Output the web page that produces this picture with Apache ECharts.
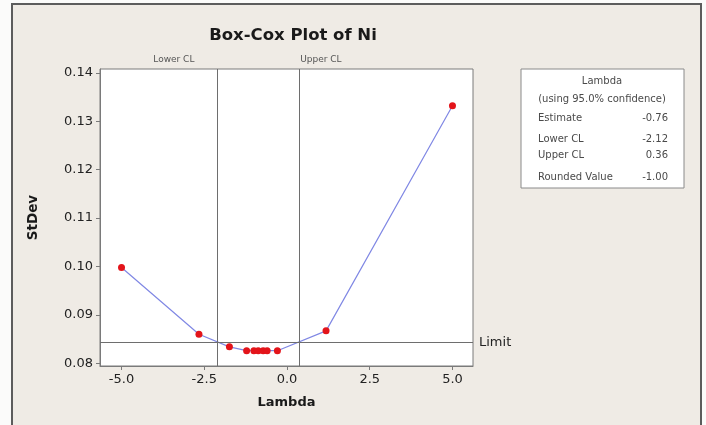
<!DOCTYPE html>
<html>
<head>
<meta charset="utf-8">
<script src="https://cdn.jsdelivr.net/npm/echarts@6/dist/echarts.min.js"></script>
<style>
  html, body { margin: 0; padding: 0; background: #fbfbfa; width: 706px; height: 425px; overflow: hidden; }
  #frame { position: absolute; left: 11px; top: 3px; width: 687px; height: 440px;
           background: #efebe5; border: 2px solid #5c5c5c; }
  #chart { position: absolute; left: 0; top: 0; width: 706px; height: 425px; }
</style>
</head>
<body>
<div id="frame"></div>
<div id="chart"></div>
<script>
// Box-Cox transformation search: standard deviation of the transformed data vs lambda
const lambdas = [-5, -2.66, -1.74, -1.22, -1.0, -0.87, -0.72, -0.6, -0.29, 1.18, 5];
const stdevs  = [0.0998, 0.0860, 0.0834, 0.0826, 0.0826, 0.0826, 0.0826, 0.0826, 0.0826, 0.0867, 0.1332];

// Summary table for lambda
const statNames  = ['Estimate', 'Lower CL', 'Upper CL', 'Rounded Value'];
const statValues = [-0.76, -2.12, 0.36, -1.00];
const lowerCL = statValues[1];
const upperCL = statValues[2];
const limitStDev = 0.0843;

const xTicks = [-5, -2.5, 0, 2.5, 5];
const yTicks = [0.08, 0.09, 0.10, 0.11, 0.12, 0.13, 0.14];

const chart = echarts.init(document.getElementById('chart'), null, { renderer: 'canvas' });

const FONT = 'DejaVu Sans';
const axisGray = '#7a7a7a';

const tableRowsY = [118, 139, 155, 177];
const tableGraphics = [
  { type: 'rect', shape: { x: 521, y: 69, width: 163, height: 119 },
    style: { fill: '#ffffff', stroke: '#8a8a8a', lineWidth: 1 } },
  { type: 'text', x: 602, y: 81,
    style: { text: 'Lambda', font: '10px "' + FONT + '"', fill: '#4a4a4a', align: 'center', verticalAlign: 'middle' } },
  { type: 'text', x: 602, y: 99,
    style: { text: '(using 95.0% confidence)', font: '10px "' + FONT + '"', fill: '#4a4a4a', align: 'center', verticalAlign: 'middle' } }
];
statNames.forEach(function (name, i) {
  tableGraphics.push({ type: 'text', x: 538, y: tableRowsY[i],
    style: { text: name, font: '10px "' + FONT + '"', fill: '#4a4a4a', align: 'left', verticalAlign: 'middle' } });
  tableGraphics.push({ type: 'text', x: 668, y: tableRowsY[i],
    style: { text: statValues[i].toFixed(2), font: '10px "' + FONT + '"', fill: '#4a4a4a', align: 'right', verticalAlign: 'middle' } });
});

const option = {
  backgroundColor: 'transparent',
  animation: false,
  title: {
    text: 'Box-Cox Plot of Ni',
    left: 288, top: 22, textAlign: 'center',
    textStyle: { fontFamily: FONT, fontWeight: 'bold', fontSize: 16.5, color: '#1a1a1a' }
  },
  grid: {
    left: 100, top: 69, width: 373, height: 297,
    show: true, backgroundColor: '#ffffff', borderColor: axisGray, borderWidth: 1
  },
  xAxis: {
    type: 'value', min: -5.65, max: 5.62,
    name: 'Lambda', nameLocation: 'middle', nameGap: 30,
    nameTextStyle: { fontFamily: FONT, fontWeight: 'bold', fontSize: 13, color: '#1a1a1a' },
    axisLine: { show: true, onZero: false, lineStyle: { color: axisGray } },
    axisTick: { show: true, length: 4, lineStyle: { color: axisGray }, customValues: xTicks },
    axisLabel: { customValues: xTicks, fontFamily: FONT, fontSize: 13, color: '#222', margin: 7,
                 formatter: function (v) { return v.toFixed(1); } },
    splitLine: { show: false }
  },
  yAxis: {
    type: 'value', min: 0.07944, max: 0.1408,
    name: 'StDev', nameLocation: 'middle', nameGap: 60, nameRotate: 90,
    nameTextStyle: { fontFamily: FONT, fontWeight: 'bold', fontSize: 13.5, color: '#1a1a1a' },
    axisLine: { show: true, onZero: false, lineStyle: { color: axisGray } },
    axisTick: { show: true, length: 4, lineStyle: { color: axisGray }, customValues: yTicks },
    axisLabel: { customValues: yTicks, fontFamily: FONT, fontSize: 13, color: '#222', margin: 7,
                 formatter: function (v) { return v.toFixed(2); } },
    splitLine: { show: false }
  },
  series: [{
    type: 'line',
    data: lambdas.map(function (l, i) { return [l, stdevs[i]]; }),
    symbol: 'circle', symbolSize: 7,
    itemStyle: { color: '#e3141a' },
    lineStyle: { color: '#8088e4', width: 1.2 },
    z: 3,
    markLine: {
      silent: true, symbol: 'none', animation: false, precision: 4,
      lineStyle: { color: '#6e6e6e', width: 1, type: 'solid' },
      data: [
        { xAxis: lowerCL, label: { formatter: 'Lower CL', position: 'end', offset: [-43, 0],
            fontFamily: FONT, fontSize: 9, color: '#555' } },
        { xAxis: upperCL, label: { formatter: 'Upper CL', position: 'end', offset: [22, 0],
            fontFamily: FONT, fontSize: 9, color: '#555' } },
        { yAxis: limitStDev, label: { formatter: 'Limit', position: 'end', distance: 6,
            fontFamily: FONT, fontSize: 13, color: '#222' } }
      ]
    }
  }],
  graphic: tableGraphics
};

chart.setOption(option);
</script>
</body>
</html>
